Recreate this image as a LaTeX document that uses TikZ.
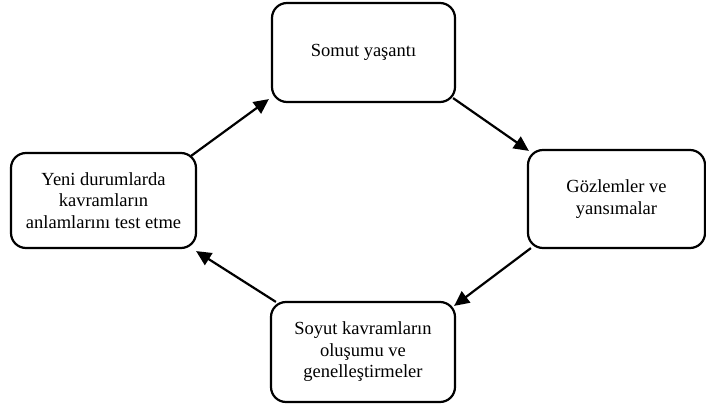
\documentclass[tikz,border=0pt]{standalone}
\usepackage{fontspec}
\setmainfont{Liberation Serif}
\usetikzlibrary{arrows.meta}
\begin{document}
\begin{tikzpicture}[x=1pt,y=1pt,
  stagebox/.style={draw, line width=2.2pt, rounded corners=15pt, align=center,
    font=\fontsize{18.5}{21.5}\selectfont, inner sep=0pt},
  cyclearrow/.style={line width=2.2pt, -{Triangle[length=15pt,width=14pt]}}]
  \useasboundingbox (0,0) rectangle (706,408);
  % the four stages of the learning cycle
  \node[stagebox, minimum width=183pt, minimum height=99pt] (T) at (363.5,355.5) {Somut yaşantı};
  \node[stagebox, minimum width=177pt, minimum height=98pt] (R) at (616.5,209) {Gözlemler ve\\yansımalar};
  \node[stagebox, minimum width=184pt, minimum height=100pt] (B) at (363,56) {Soyut kavramların\\oluşumu ve\\genelleştirmeler};
  \node[stagebox, minimum width=185pt, minimum height=95pt] (L) at (103.5,207.5) {Yeni durumlarda\\kavramların\\anlamlarını test etme};
  % arrows running clockwise from corner to corner
  \draw[cyclearrow] ([shift={(-6pt,-4pt)}]L.north east) -- ([shift={(-2pt,4pt)}]T.south west);
  \draw[cyclearrow] ([shift={(-3pt,5pt)}]T.south east) -- ([shift={(2pt,-2pt)}]R.north west);
  \draw[cyclearrow] ([shift={(4pt,1pt)}]R.south west) -- ([shift={(-2pt,-5pt)}]B.north east);
  \draw[cyclearrow] ([shift={(6pt,-1pt)}]B.north west) -- ([shift={(-1pt,-2pt)}]L.south east);
\end{tikzpicture}
\end{document}
